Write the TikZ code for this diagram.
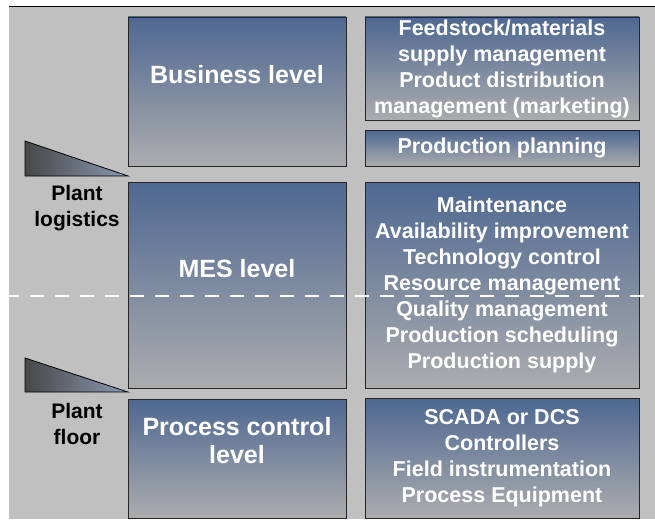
\documentclass[tikz,border=0pt]{standalone}
\usepackage{fontspec}
\setmainfont{Liberation Sans}
\definecolor{backgray}{RGB}{192,192,192}
\definecolor{boxtop}{RGB}{78,104,145}
\definecolor{boxbottom}{RGB}{172,172,174}
\definecolor{wedgedark}{RGB}{72,72,72}
\definecolor{wedgelight}{RGB}{138,154,180}
\tikzset{
	levelbox/.style = {
		draw=black!85, line width=0.9pt, inner sep=0pt,
		top color=boxtop, bottom color=boxbottom,
		minimum width=218pt
	},
	taskbox/.style = {
		levelbox, minimum width=274pt, align=center, text=white,
		font=\bfseries\fontsize{21.5}{26}\selectfont
	},
	levelname/.style = {
		align=center, text=white, inner sep=0pt,
		font=\bfseries\fontsize{25}{28}\selectfont
	},
	sidetext/.style = {
		align=center, inner sep=0pt,
		font=\bfseries\fontsize{21}{26}\selectfont
	},
	wedge/.style = {
		draw=black, line width=0.8pt, left color=wedgedark, right color=wedgelight
	}
}

\begin{document}
\begin{tikzpicture}[x=1pt, y=-1pt]
	\useasboundingbox (0, 0) rectangle (655, 519);
	\fill [white] (0, 0) rectangle (655, 519);
	\fill [backgray] (9, 7) rectangle (655, 519);
	\draw [line width=1pt] (9, 7) -- (655, 7);

	\node [levelbox, minimum height=149pt] (business) at (237, 91.5) {};
	\node [levelbox, minimum height=206pt] (mes) at (237, 285) {};
	\node [levelbox, minimum height=119pt] (process) at (237, 458.5) {};

	\node [levelname] (businesslabel) at (237, 75) {Business level};
	\node [levelname] (meslabel) at (237, 269) {MES level};
	\node [levelname] (processlabel) at (237, 441) {Process control\\level};

	\node [taskbox, minimum height=103pt] (supply) at (502, 68.5)
		{Feedstock/materials\\supply management\\Product distribution\\management (marketing)};
	\node [taskbox, minimum height=36pt] (planning) at (502, 148) {Production planning};
	\node [taskbox, minimum height=206pt] (operations) at (502, 285)
		{Maintenance\\Availability improvement\\Technology control\\Resource management\\Quality management\\Production scheduling\\Production supply};
	\node [taskbox, minimum height=120pt] (control) at (502, 458)
		{SCADA or DCS\\Controllers\\Field instrumentation\\Process Equipment};

	\draw [wedge] (25, 141) -- (25, 176) -- (128, 176) -- cycle;
	\draw [wedge] (25, 358) -- (25, 392) -- (128, 392) -- cycle;
	\node [sidetext] (logistics) at (77, 208) {Plant\\logistics};
	\node [sidetext] (floor) at (77, 424) {Plant\\floor};

	\draw [white, line width=2pt, dash pattern=on 14pt off 11pt, dash phase=4pt]
		(9, 296) -- (655, 296);
\end{tikzpicture}
\end{document}
